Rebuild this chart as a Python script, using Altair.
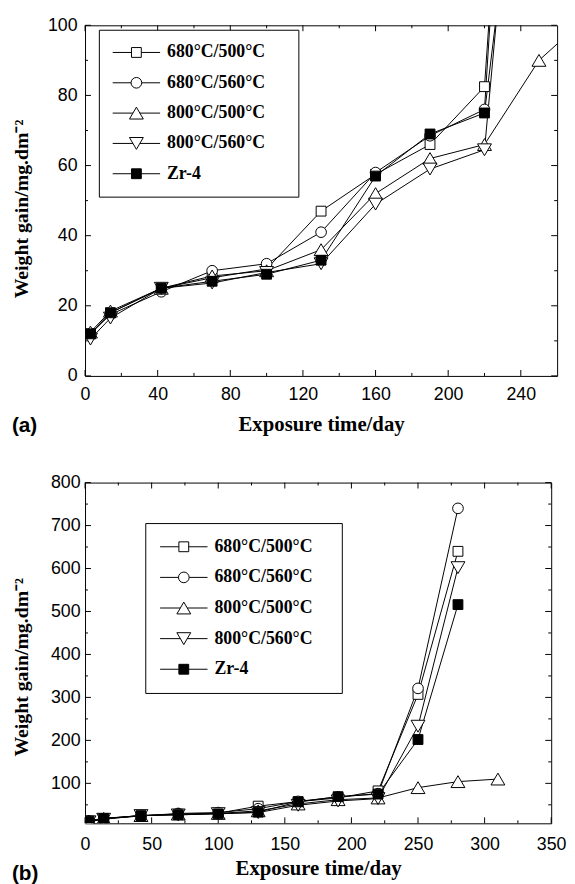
import altair as alt
import pandas as pd

# ---------------- data ----------------
days = [3, 14, 42, 70, 100, 130, 160, 190, 220, 250, 280, 310]
names = ["680°C/500°C", "680°C/560°C", "800°C/500°C", "800°C/560°C", "Zr-4"]
gain_680_500 = [12, 18, 25, 28, 30.5, 47, 57.5, 66, 82.5, 307, 640]
gain_680_560 = [12, 17.5, 24, 30, 32, 41, 58, 68.5, 76, 321, 740]
gain_800_500 = [12.5, 18.5, 25, 28.5, 30, 36, 52, 62, 66, 90, 104, 110]
gain_800_560 = [10.5, 16.5, 25, 26.5, 29.5, 32, 49, 59, 64.5, 233, 602]
gain_zr4 = [12, 18, 25, 27, 29, 33, 57, 69, 75, 202, 516]

a_x_major = [0, 40, 80, 120, 160, 200, 240]
a_x_minor = [20, 60, 100, 140, 180, 220]
a_y_major = [0, 20, 40, 60, 80, 100]
a_y_minor = [10, 30, 50, 70, 90]
b_x_major = [0, 50, 100, 150, 200, 250, 300, 350]
b_x_minor = [25, 75, 125, 175, 225, 275, 325]
b_y_major = [100, 200, 300, 400, 500, 600, 700, 800]
b_y_minor = [50, 150, 250, 350, 450, 550, 650, 750]

rows = []
for name, vals in zip(names, [gain_680_500, gain_680_560, gain_800_500, gain_800_560, gain_zr4]):
    for d, g in zip(days, vals):
        rows.append({"day": d, "gain": g, "series": name})
df = pd.DataFrame(rows)

# ---------------- symbols ----------------
SQ = "M-0.83,-0.83H0.83V0.83H-0.83Z"
CI = "M0.9,0A0.9,0.9,0,1,1,-0.9,0A0.9,0.9,0,1,1,0.9,0Z"
TU = "M0,-1L1.17,1L-1.17,1Z"
TD = "M0,1L1.17,-1L-1.17,-1Z"
MARKERS = [SQ, CI, TU, TD, SQ]
LEG_MARKERS = [
    "M-4,0H-0.83M0.83,0H4" + SQ,
    "M-4,0H-0.9M0.9,0H4" + CI,
    "M-4,0H-0.585M0.585,0H4" + TU,
    "M-4,0H-0.585M0.585,0H4" + TD,
    "M-4,0H-0.83M0.83,0H4" + SQ,
]
FILLS = ["white", "white", "white", "white", "black"]


def make_legend(lx, ly, pad, rowpad, right_space):
    return alt.Legend(
        title=".", titleOrient="right", titlePadding=right_space, titleFontSize=6,
        titleOpacity=0, titleColor="white",
        orient="none", legendX=lx, legendY=ly,
        padding=pad, rowPadding=rowpad,
        strokeColor="black", fillColor="white",
        labelFont="Liberation Serif", labelFontWeight="bold",
        labelFontSize=18, labelColor="black", labelLimit=400,
        symbolSize=144, symbolStrokeWidth=1, symbolOpacity=1,
        symbolOffset=15, labelOffset=22,
    )


def panel(W, H, xdom, ydom, xmaj, xmin, ymaj, ymin, legend, tag,
          xlabpad, xtitpad, ylabpad, ytitpad, ytitshift, tag_offset):
    xs = alt.Scale(domain=xdom, nice=False, zero=False)
    ys = alt.Scale(domain=ydom, nice=False, zero=False)
    base = alt.Chart(df)
    xaxis = alt.Axis(values=xmaj, ticks=False, tickSize=0, domain=False, grid=False,
                     labelFlush=False, labelOverlap=False, format="d",
                     labelFont="Liberation Sans", labelFontSize=18, labelColor="black",
                     labelPadding=xlabpad,
                     title="Exposure time/day", titleFont="Liberation Serif",
                     titleFontWeight="bold", titleFontSize=21, titleColor="black",
                     titlePadding=xtitpad)
    yaxis = alt.Axis(values=ymaj, ticks=False, tickSize=0, domain=False, grid=False,
                     labelFlush=False, labelOverlap=False, format="d",
                     labelFont="Liberation Sans", labelFontSize=18, labelColor="black",
                     labelPadding=ylabpad,
                     title="Weight gain/mg.dm\u207b\u00b2", titleFont="Liberation Serif",
                     titleFontWeight="bold", titleFontSize=20, titleColor="black",
                     titlePadding=ytitpad, titleY=H / 2 + ytitshift)
    X = lambda f: alt.X(f, scale=xs, axis=xaxis)
    Y = lambda f: alt.Y(f, scale=ys, axis=yaxis)
    lines = base.mark_line(color="black", strokeWidth=1, clip=True).encode(
        x=X("day:Q"), y=Y("gain:Q"), detail="series:N",
    )
    ticks = []
    for vals, L in [(ymaj, 6), (ymin, 3)]:
        c = alt.Chart(pd.DataFrame({"v": vals})).mark_rule(color="black", strokeWidth=1)
        ticks.append(c.encode(y=Y("v:Q"), x=alt.value(0), x2=alt.value(L)))
        ticks.append(c.encode(y=Y("v:Q"), x=alt.value(W - L), x2=alt.value(W)))
    for vals, L in [(xmaj, 6), (xmin, 3)]:
        c = alt.Chart(pd.DataFrame({"v": vals})).mark_rule(color="black", strokeWidth=1)
        ticks.append(c.encode(x=X("v:Q"), y=alt.value(H - L), y2=alt.value(H)))
        ticks.append(c.encode(x=X("v:Q"), y=alt.value(0), y2=alt.value(L)))
    pts = base.mark_point(filled=True, stroke="black", strokeWidth=1, opacity=1,
                          size=144, clip=True).encode(
        x=X("day:Q"), y=Y("gain:Q"),
        shape=alt.Shape("series:N", scale=alt.Scale(domain=names, range=MARKERS), legend=None),
        fill=alt.Fill("series:N", scale=alt.Scale(domain=names, range=FILLS), legend=None),
    )
    leg = base.transform_filter("false").mark_point(
        filled=True, stroke="black", strokeWidth=1, opacity=1, size=144).encode(
        x=X("day:Q"), y=Y("gain:Q"),
        shape=alt.Shape("series:N", scale=alt.Scale(domain=names, range=LEG_MARKERS), legend=legend),
        fill=alt.Fill("series:N", scale=alt.Scale(domain=names, range=FILLS), legend=legend),
    )
    return alt.layer(lines, *ticks, pts, leg).resolve_scale(
        shape="independent", fill="independent"
    ).properties(
        width=W, height=H,
        title=alt.TitleParams(tag, orient="bottom", anchor="start", frame="bounds",
                              offset=tag_offset, baseline="top",
                              font="Liberation Sans", fontSize=21, fontWeight="bold",
                              color="black"),
    )


pa = panel(478, 355, [0, 260], [0, 100], a_x_major, a_x_minor, a_y_major, a_y_minor,
           make_legend(14, 4.5, 14, 12.7, 18), "(a)",
           xlabpad=10, xtitpad=10, ylabpad=8, ytitpad=16, ytitshift=8, tag_offset=-19)
pb = panel(472, 345, [0, 350], [7, 800], b_x_major, b_x_minor, b_y_major, b_y_minor,
           make_legend(61, 41, 15, 13, 13), "(b)",
           xlabpad=13, xtitpad=4, ylabpad=5, ytitpad=19, ytitshift=14, tag_offset=-16)

chart = alt.vconcat(pa, pb, spacing=36).resolve_scale(
    shape="independent", fill="independent"
).configure_view(stroke="black", strokeWidth=1).properties(
    padding={"left": 3, "top": 2, "right": 0, "bottom": 0}, background="white"
)

chart.save("out.html", embed_options={"renderer": "svg", "actions": False})
